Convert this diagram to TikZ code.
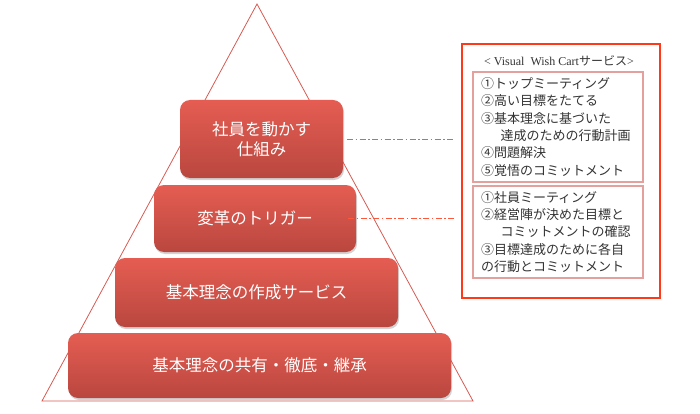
\documentclass[tikz,border=0pt]{standalone}
\usepackage{fontspec}
\setmainfont{Liberation Serif}
\newfontfamily\cjk{Noto Sans CJK JP}
\usepackage{xcolor}
\usetikzlibrary{shadows}
\definecolor{edge}{HTML}{D65A52}
\definecolor{barTop}{HTML}{E55D52}
\definecolor{barBot}{HTML}{B9473F}
\definecolor{frame}{HTML}{FF3A1A}
\definecolor{pale}{HTML}{E3A09C}
\definecolor{ink}{HTML}{333333}
\tikzset{
  bar/.style={rounded corners=10pt,top color=barTop,bottom color=barBot,draw=none,
    drop shadow={opacity=0.35,shadow xshift=1pt,shadow yshift=-2pt},
    text=white,font=\cjk\fontsize{16.5}{20}\selectfont,align=center,inner sep=0pt},
  list/.style={draw=pale,line width=1.1pt,inner xsep=8pt,inner ysep=0pt,align=left,
    text width=154pt,minimum height=#1,text=ink,font=\cjk\fontsize{13}{17.3}\selectfont},
  link/.style={frame!85,line width=0.8pt,dash pattern=on 6pt off 2.5pt on 1.5pt off 2.5pt}
}
\begin{document}
\begin{tikzpicture}[x=1pt,y=-1pt]
  \useasboundingbox (0,0) rectangle (700,414);
  % pyramid outline
  \draw[edge,line width=0.8pt] (257,4) -- (473,401) -- (42,401) -- cycle;
  % levels
  \node[bar,minimum width=163pt,minimum height=78pt] (top) at (261.5,139) {社員を動かす\\仕組み};
  \node[bar,minimum width=202pt,minimum height=67pt] (trig) at (255,218.5) {変革のトリガー};
  \node[bar,minimum width=283pt,minimum height=69pt] (make) at (256.5,292.5) {基本理念の作成サービス};
  \node[bar,minimum width=383pt,minimum height=65pt] (base) at (259.5,365.5) {基本理念の共有・徹底・継承};
  % service box
  \node[draw=frame,line width=1.8pt,minimum width=198pt,minimum height=254pt,inner sep=0pt] (svc) at (561,171) {};
  \node[text=ink,font=\fontsize{12}{14}\selectfont] (title) at (559,61) {< Visual\ \ Wish Cart{\cjk サービス}>};
  \node[list=110pt] (steps) at (558,127) {①トップミーティング\\②高い目標をたてる\\③基本理念に基づいた\\\hspace*{1.5em}達成のための行動計画\\④問題解決\\⑤覚悟のコミットメント};
  \node[list=92pt] (meet) at (558,232) {①社員ミーティング\\②経営陣が決めた目標と\\\hspace*{1.5em}コミットメントの確認\\③目標達成のために各自\\の行動とコミットメント};
  % links
  \draw[link] ([xshift=4pt]top.east) -- ([xshift=-6pt]top.east -| svc.west);
  \draw[link] ([xshift=-8pt]trig.east) -- ([xshift=-6pt]trig.east -| svc.west);
\end{tikzpicture}
\end{document}
